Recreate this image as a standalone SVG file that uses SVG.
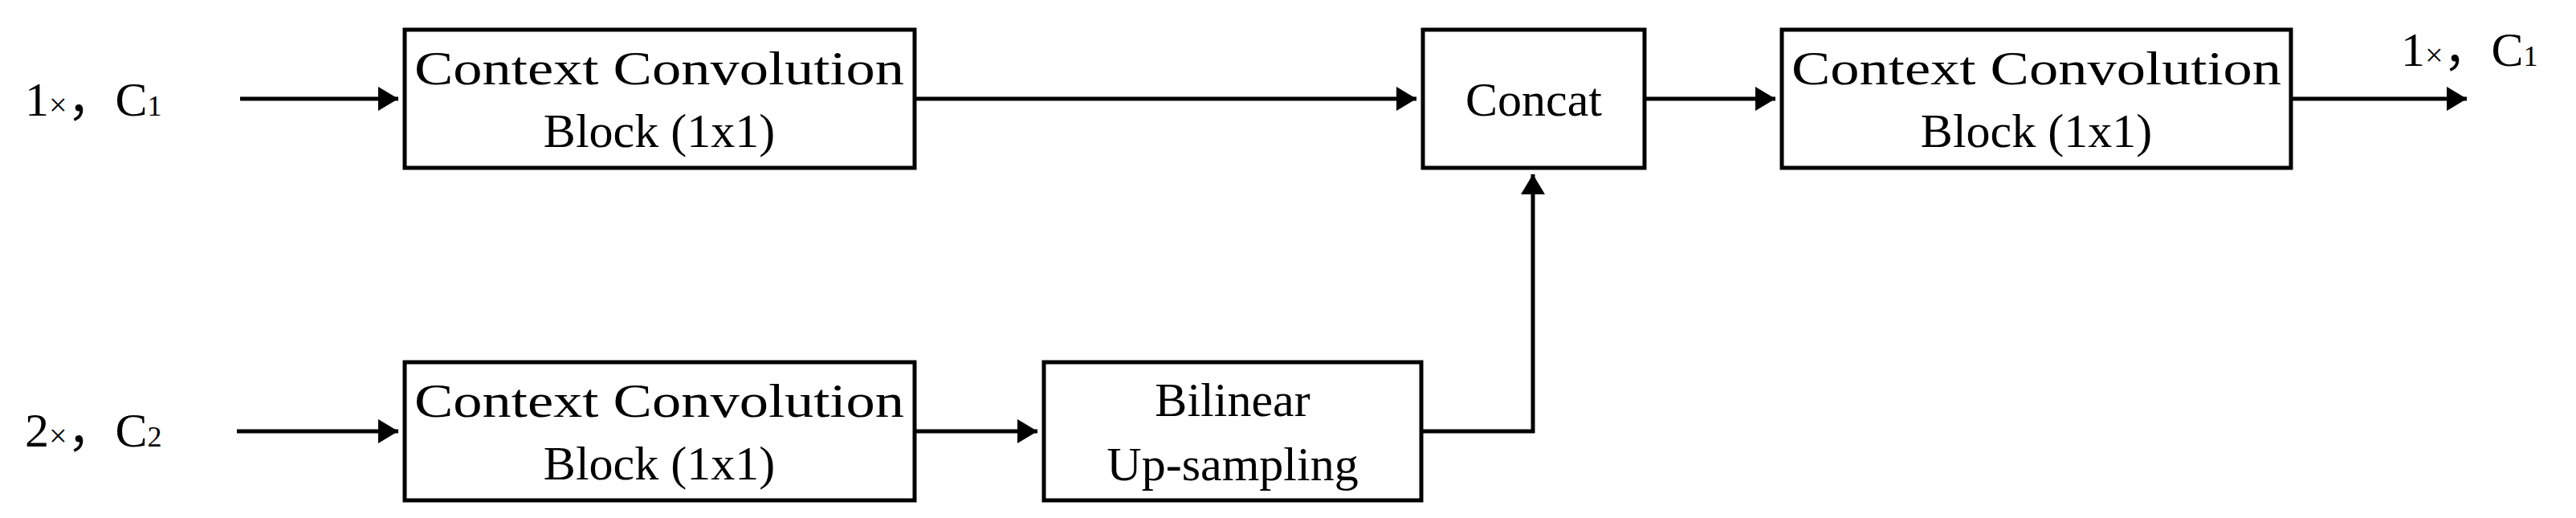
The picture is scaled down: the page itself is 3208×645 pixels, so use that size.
<svg xmlns="http://www.w3.org/2000/svg" width="3208" height="645" viewBox="0 0 3208 645">
<style>
.box{fill:#fff;stroke:#000;stroke-width:5}
.t{font-family:"Liberation Serif","Noto Sans CJK SC",serif;font-size:60px;fill:#000;text-anchor:middle}
.l{font-family:"Liberation Serif","Noto Sans CJK SC",serif;font-size:60px;fill:#000}
.c{fill:none;stroke:#000;stroke-width:5}
</style>
<defs><marker id="a" markerWidth="6" markerHeight="6" refX="5" refY="3" orient="auto" markerUnits="strokeWidth"><path d="M0,0L5,3L0,6z" fill="#000"/></marker></defs>
<g id="in1"><text class="l" x="31" y="144">1<tspan font-size="40">×</tspan>，C<tspan font-size="36">1</tspan></text></g>
<g id="in2"><text class="l" x="31" y="556">2<tspan font-size="40">×</tspan>，C<tspan font-size="36">2</tspan></text></g>
<g id="out"><text class="l" x="2990" y="82">1<tspan font-size="40">×</tspan>，C<tspan font-size="36">1</tspan></text></g>
<g id="ccb1"><rect class="box" x="504" y="37" width="635" height="172"/><text class="t" x="821" y="105" textLength="610" lengthAdjust="spacingAndGlyphs">Context Convolution</text><text class="t" x="821" y="183">Block (1x1)</text></g>
<g id="ccb2"><rect class="box" x="504" y="451" width="635" height="172"/><text class="t" x="821" y="519" textLength="610" lengthAdjust="spacingAndGlyphs">Context Convolution</text><text class="t" x="821" y="597">Block (1x1)</text></g>
<g id="bil"><rect class="box" x="1300" y="451" width="470" height="172"/><text class="t" x="1535" y="518">Bilinear</text><text class="t" x="1535" y="598">Up-sampling</text></g>
<g id="concat"><rect class="box" x="1772" y="37" width="276" height="172"/><text class="t" x="1910" y="144">Concat</text></g>
<g id="ccb3"><rect class="box" x="2219" y="37" width="634" height="172"/><text class="t" x="2536" y="105" textLength="610" lengthAdjust="spacingAndGlyphs">Context Convolution</text><text class="t" x="2536" y="183">Block (1x1)</text></g>
<g id="connectors">
<path class="c" d="M299,123H496" marker-end="url(#a)"/>
<path class="c" d="M295,537H496" marker-end="url(#a)"/>
<path class="c" d="M1139,123H1764" marker-end="url(#a)"/>
<path class="c" d="M1139,537H1292" marker-end="url(#a)"/>
<path class="c" d="M1770,537H1909V217" marker-end="url(#a)"/>
<path class="c" d="M2048,123H2211" marker-end="url(#a)"/>
<path class="c" d="M2853,123H3072" marker-end="url(#a)"/>
</g>
</svg>
